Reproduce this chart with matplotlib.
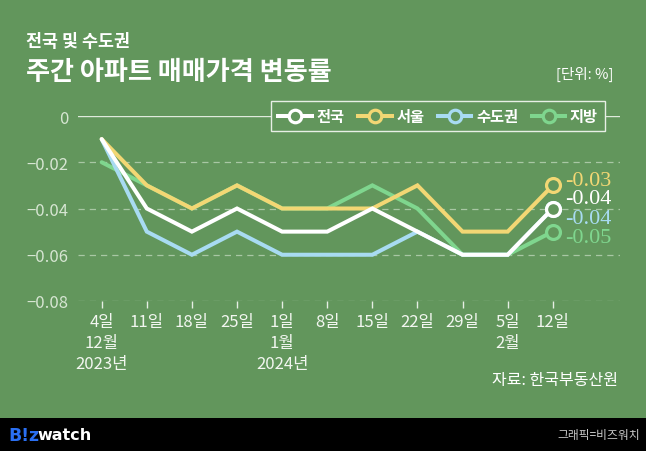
import matplotlib
matplotlib.use("Agg")
import matplotlib.pyplot as plt
from matplotlib.patches import Rectangle
from matplotlib.lines import Line2D

# ---- data ----
days = ["4일", "11일", "18일", "25일", "1일", "8일", "15일", "22일", "29일", "5일", "12일"]
months = ["12월", "", "", "", "1월", "", "", "", "", "2월", ""]
years = ["2023년", "", "", "", "2024년", "", "", "", "", "", ""]
series_names = ["전국", "서울", "수도권", "지방"]
national = [-0.01, -0.04, -0.05, -0.04, -0.05, -0.05, -0.04, -0.05, -0.06, -0.06, -0.04]
seoul = [-0.01, -0.03, -0.04, -0.03, -0.04, -0.04, -0.04, -0.03, -0.05, -0.05, -0.03]
capital = [-0.01, -0.05, -0.06, -0.05, -0.06, -0.06, -0.06, -0.05, -0.06, -0.06, -0.04]
regional = [-0.02, -0.03, -0.04, -0.03, -0.04, -0.04, -0.03, -0.04, -0.06, -0.06, -0.05]
yticks = [0, -0.02, -0.04, -0.06, -0.08]
ytick_labels = ["0", "−0.02", "−0.04", "−0.06", "−0.08"]
end_labels = ["-0.04", "-0.03", "-0.04", "-0.05"]

BG = "#62965c"
C_WHITE = "#ffffff"
C_YEL = "#f2d774"
C_BLUE = "#a8dbf2"
C_GREEN = "#7fd68e"
KR = ["Noto Sans CJK KR", "DejaVu Sans"]

fig = plt.figure(figsize=(6.46, 4.52), dpi=100, facecolor=BG)
W, H = 646, 452

ax = fig.add_axes([78 / W, 1 - 302 / H, 542 / W, 185 / H])
ax.set_facecolor(BG)
for s in ax.spines.values():
    s.set_visible(False)

x = list(range(len(days)))
ax.set_xlim(-0.525, 11.49)
ax.set_ylim(-0.08, 0)

# grid
for yv in yticks:
    if yv == 0:
        ax.axhline(yv, color="#dfeadc", lw=1.0, zorder=1)
    else:
        ax.axhline(yv, color="#a9c7a4", lw=0.9, ls=(0, (5, 4)), zorder=1)

data = [national, seoul, capital, regional]
colors = [C_WHITE, C_YEL, C_BLUE, C_GREEN]
draw_order = [3, 2, 1, 0]
zs = {3: 3, 2: 4, 1: 5, 0: 6}
for i in draw_order:
    ax.plot(x, data[i], color=colors[i], lw=2.9, zorder=zs[i], clip_on=False,
            solid_capstyle="round", solid_joinstyle="miter")
    ax.plot([x[-1]], [data[i][-1]], marker="o", ms=10, mfc=BG, mec=colors[i],
            mew=2.3, zorder=zs[i] + 0.5, clip_on=False, ls="none")

# end labels
label_y_px = {1: 181, 0: 200, 2: 219, 3: 239}
for i in [1, 0, 2, 3]:
    fig.text(565 / W, 1 - label_y_px[i] / H, end_labels[i], color=colors[i],
             fontsize=16, family="Liberation Serif", va="center", ha="left")

# ticks
ax.set_yticks(yticks)
ax.set_yticklabels(ytick_labels, family=KR, fontsize=12, color="#d6e5d2")
ax.tick_params(axis="y", length=0, pad=7)
xlabels = []
for d, m, yv in zip(days, months, years):
    parts = [d]
    if m:
        parts.append(m)
    if yv:
        parts.append(yv)
    xlabels.append("\n".join(parts))
ax.set_xticks(x)
ax.set_xticklabels(xlabels, family=KR, fontsize=12, color="#f2f6f0",
                   linespacing=1.27, va="top")
ax.tick_params(axis="x", length=5, width=1, color="#e6eee4", pad=4, direction="out")

# legend
handles = [Line2D([0], [0], color=c, lw=2.9, marker="o", ms=9, mfc=BG, mec=c, mew=2.3)
           for c in colors]
leg = fig.legend(handles, series_names, loc="center",
                 bbox_to_anchor=(438 / W, 1 - 117 / H), bbox_transform=fig.transFigure,
                 ncol=4, frameon=True, fancybox=False, facecolor=BG, framealpha=1,
                 edgecolor="#e8efe6", handlelength=2.2, handletextpad=0.3,
                 columnspacing=0.9, borderpad=0.45,
                 prop={"family": KR, "size": 11, "weight": "bold"},
                 labelcolor="white")
leg.get_frame().set_linewidth(1.0)
leg.set_zorder(10)

# titles
fig.text(26 / W, 1 - 42 / H, "전국 및 수도권", family=KR, fontsize=12.5,
         weight="bold", color="white", va="center", ha="left")
fig.text(26 / W, 1 - 73 / H, "주간 아파트 매매가격 변동률", family=KR, fontsize=18.8,
         weight="bold", color="white", va="center", ha="left")
fig.text(613 / W, 1 - 74 / H, "[단위: %]", family=KR, fontsize=10.5,
         color="white", va="center", ha="right")
fig.text(492 / W, 1 - 381 / H, "자료: 한국부동산원", family=KR, fontsize=11.5,
         color="white", va="center", ha="left")

# footer
fig.patches.append(Rectangle((0, 0), 1, 33 / H, transform=fig.transFigure,
                             facecolor="black", edgecolor="none", zorder=0))
fig.text(8 / W, 1 - 436 / H, "B!z", family=["DejaVu Sans"], fontsize=12.5,
         weight="bold", color="#2a6ff2", va="center", ha="left")
fig.text(37 / W, 1 - 436 / H, "watch", family=["DejaVu Sans"], fontsize=11.5,
         weight="bold", color="white", va="center", ha="left")
fig.text(640 / W, 1 - 436 / H, "그래픽=비즈워치", family=KR, fontsize=8.5,
         color="#c8c8c8", va="center", ha="right")

fig.savefig("out.png", dpi=100, facecolor=BG)
